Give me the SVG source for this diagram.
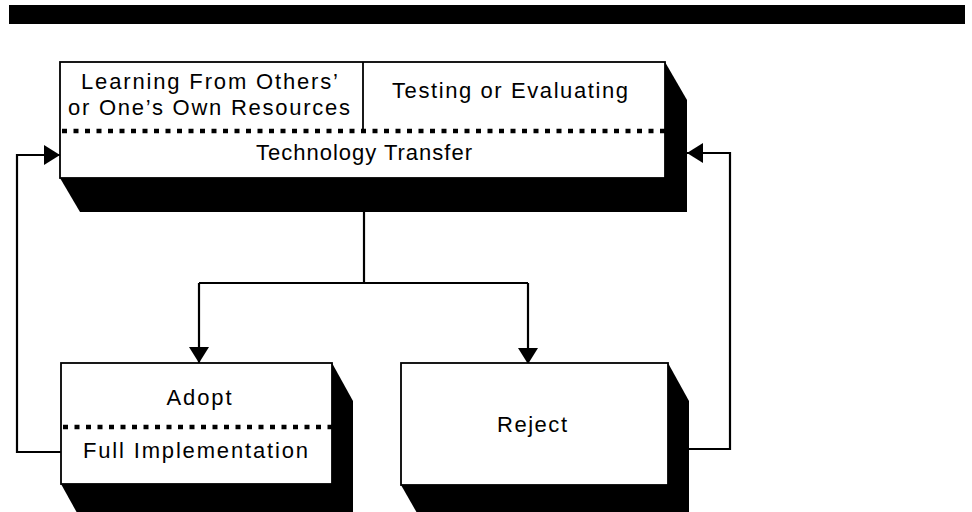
<svg xmlns="http://www.w3.org/2000/svg" width="972" height="512" viewBox="0 0 972 512">
<defs>
<style>
.bg{fill:#fff}
.box{fill:#fff;stroke:#000;stroke-width:1.8}
.shadow{fill:#000}
.dots{stroke:#000;stroke-width:4.5;stroke-dasharray:5 6.5;fill:none}
.div{stroke:#000;stroke-width:1.8}
.conn{fill:none;stroke:#000;stroke-width:2.2}
text{font-family:"Liberation Sans",Arial,Helvetica,sans-serif;font-size:22px;fill:#000;text-anchor:middle}
</style>
<marker id="arr" markerUnits="userSpaceOnUse" markerWidth="18" markerHeight="20" refX="16" refY="10" orient="auto">
<polygon points="0,0 16,10 0,20" fill="#000"/>
</marker>
</defs>
<rect class="bg" x="0" y="0" width="972" height="512"/>
<rect x="9" y="5" width="956" height="19" fill="#000"/>

<g id="connectors">
<polyline class="conn" points="364,212 364,283"/>
<polyline class="conn" points="199,283 528,283"/>
<polyline class="conn" points="199,283 199,363" marker-end="url(#arr)"/>
<polyline class="conn" points="528,283 528,364" marker-end="url(#arr)"/>
<polyline class="conn" points="61,452 17,452 17,155 60,155" marker-end="url(#arr)"/>
<polyline class="conn" points="689,449 730,449 730,153 687,153" marker-end="url(#arr)"/>
</g>

<g id="technology-transfer">
<polygon class="shadow" points="665,62 687,100 687,212 80,212 60,178"/>
<rect class="box" x="60" y="62" width="605" height="116"/>
<line class="div" x1="363" y1="62" x2="363" y2="131"/>
<line class="dots" x1="62" y1="131" x2="665" y2="131"/>
<text x="209.5" y="89" textLength="257" lengthAdjust="spacing">Learning From Others’</text>
<text x="209" y="115" textLength="282" lengthAdjust="spacing">or One’s Own Resources</text>
<text x="510" y="98" textLength="236" lengthAdjust="spacing">Testing or Evaluating</text>
<text x="364" y="160" textLength="216" lengthAdjust="spacing">Technology Transfer</text>
</g>

<g id="adopt">
<polygon class="shadow" points="332,363 353,401 353,520 81,520 61,484"/>
<rect class="box" x="61" y="363" width="271" height="121"/>
<line class="dots" x1="63" y1="427" x2="332" y2="427"/>
<text x="199" y="405" textLength="65" lengthAdjust="spacing">Adopt</text>
<text x="195.5" y="458" textLength="225" lengthAdjust="spacing">Full Implementation</text>
</g>

<g id="reject">
<polygon class="shadow" points="668,363 689,401 689,520 421,520 401,485"/>
<rect class="box" x="401" y="363" width="267" height="122"/>
<text x="532" y="432" textLength="70" lengthAdjust="spacing">Reject</text>
</g>
</svg>
